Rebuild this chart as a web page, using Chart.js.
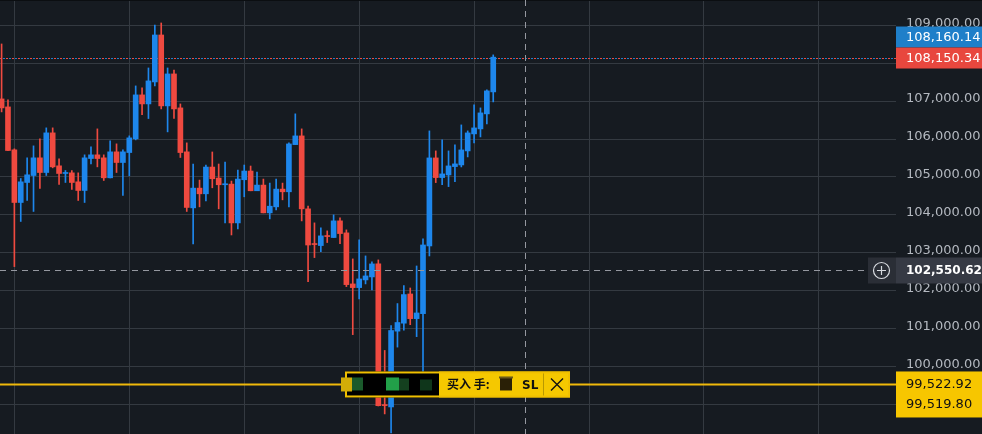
<!DOCTYPE html>
<html>
<head>
<meta charset="utf-8">
<script src="https://cdn.jsdelivr.net/npm/chart.js@4.4.1/dist/chart.umd.min.js"></script>
<style>
  html, body { margin: 0; padding: 0; background: #161b21; overflow: hidden; }
  #wrap { width: 982px; height: 434px; }
</style>
</head>
<body>
<div id="wrap"><canvas id="chart" width="982" height="434"></canvas></div>
<script>
// candle values (one entry per candle, left to right)
const opens = [
  107058, 106847, 105714, 104325, 104853, 105037, 105503, 105116, 106162, 105292,
  105090, 105107, 104870, 104642, 105485, 105582, 105503, 104976, 105661, 105380,
  105643, 106004, 107164, 106926, 107506, 108745, 106874, 107717, 106821, 105661,
  104183, 104704, 104554, 105260, 104969, 104793, 104810, 103786, 104925, 105155,
  104634, 104784, 104051, 104210, 104678, 104607, 105852, 106082, 104157, 103232,
  103188, 103444, 103400, 103840, 103523, 102176, 102079, 102282, 102361, 102704,
  98990, 98930, 100930, 101140, 101911, 101260, 101392, 103178, 105501, 104982,
  105052, 105272, 105316, 105686, 106135, 106267, 106663, 107243
];
const highs = [
  108508, 107032, 105740, 104958, 105503, 105819, 106004, 106294, 106294, 105476,
  105169, 105169, 105107, 105582, 105793, 106267, 105582, 105951, 105872, 105714,
  106083, 107401, 107348, 107875, 109009, 109062, 107875, 107822, 106926, 105898,
  105340, 104916, 105313, 105658, 105340, 105393, 104890, 105181, 105313, 105287,
  105128, 104943, 104837, 104943, 104837, 105896, 106664, 106267, 104227, 103787,
  103655, 103576, 103998, 103919, 103602, 102836, 103338, 102915, 102757, 102810,
  100421, 101079, 101658, 102132, 102069, 102650, 103363, 106214, 105686, 105976,
  105686, 105844, 106372, 106214, 106900, 106821, 107296, 108220
];
const lows = [
  106715, 105690, 102633, 103824, 104378, 104088, 104694, 105037, 105239, 104800,
  104853, 104668, 104378, 104325, 105344, 105265, 104905, 104976, 105116, 104510,
  105028, 105977, 106645, 106540, 107401, 106794, 106188, 106540, 105512, 104088,
  103230, 104210, 104369, 104713, 104157, 103786, 103468, 103627, 104475, 104634,
  104634, 104051, 103892, 104130, 104395, 104210, 105852, 103839, 102238, 102871,
  103030, 103268, 103400, 103241, 102105, 100838, 101780, 102176, 102017, 98955,
  98746, 98246, 100509, 100956, 101101, 100785, 99800, 102914, 104850, 104797,
  104744, 104876, 105263, 105527, 105897, 106055, 106399, 106979
];
const closes = [
  106821, 105696, 104325, 104870, 105055, 105503, 105116, 106162, 105265, 105090,
  105107, 104853, 104642, 105503, 105582, 105485, 104976, 105661, 105380, 105661,
  106030, 107164, 106926, 107533, 108745, 106874, 107717, 106794, 105643, 104194,
  104704, 104554, 105260, 104951, 104793, 104810, 103786, 104943, 105155, 104634,
  104784, 104051, 104227, 104678, 104607, 105870, 106082, 104157, 103203, 103215,
  103444, 103426, 103840, 103505, 102158, 102079, 102308, 102387, 102704, 98963,
  98965, 100947, 101158, 101895, 101260, 101410, 103204, 105501, 104982, 105079,
  105290, 105343, 105712, 106161, 106293, 106689, 107270, 108160
];
const priceTicks = [99000, 100000, 101000, 102000, 103000, 104000, 105000, 106000, 107000, 108000, 109000];
const timeGridIdx = [2, 20, 38, 56, 74, 92, 110, 128];

const lastPrice = 108160.14;
const markPrice = 108150.34;
const crossIdx = 81.9;
const crossPrice = 102550.62;
const orderPrice = 99522.92;
const orderPrice2 = 99519.80;
const orderText = '买入 手:';

const UP = '#1e87ec';
const DOWN = '#ef4a40';
const GRID = '#343a41';
const BG = '#161b21';
const FONT = 'DejaVu Sans';

function fmt(v) {
    return v.toLocaleString('en-US', { minimumFractionDigits: 2, maximumFractionDigits: 2 });
}

// drop the padding Chart.js keeps for edge tick labels so the plot fills the canvas
function noPad(s) {
    s.paddingTop = 0; s.paddingBottom = 0; s.paddingLeft = 0; s.paddingRight = 0;
}

const idx = opens.map((_, i) => i);
const colors = idx.map(i => closes[i] >= opens[i] ? UP : DOWN);

// everything that is not a candle: price lines, crosshair, order box, axis tags
const overlay = {
    id: 'overlay',
    beforeDraw(chart) {
        const ctx = chart.ctx;
        ctx.save();
        ctx.fillStyle = BG;
        ctx.fillRect(0, 0, chart.width, chart.height);
        ctx.restore();
    },
    beforeDatasetsDraw(chart) {
        const ctx = chart.ctx, area = chart.chartArea;
        const y = Math.round(chart.scales.y.getPixelForValue(markPrice)) + 0.5;
        ctx.save();
        ctx.lineWidth = 1;
        ctx.setLineDash([2, 4]);
        ctx.strokeStyle = DOWN;
        ctx.beginPath(); ctx.moveTo(area.left, y); ctx.lineTo(area.right, y); ctx.stroke();
        ctx.lineDashOffset = 3;
        ctx.strokeStyle = '#1f7fc9';
        ctx.beginPath(); ctx.moveTo(area.left, y); ctx.lineTo(area.right, y); ctx.stroke();
        ctx.restore();
    },
    afterDraw(chart) {
        const ctx = chart.ctx, area = chart.chartArea;
        const xs = chart.scales.x, ys = chart.scales.y;
        const right = area.right, W = chart.width;
        ctx.save();
        ctx.fillStyle = '#0b0e11';
        ctx.fillRect(0, 0, W, 1);

        // crosshair
        const cx = Math.round(xs.getPixelForValue(crossIdx)) + 0.5;
        const cy = Math.round(ys.getPixelForValue(crossPrice)) + 0.5;
        ctx.strokeStyle = '#9598a0';
        ctx.lineWidth = 1;
        ctx.setLineDash([6, 5]);
        ctx.beginPath(); ctx.moveTo(cx, area.top); ctx.lineTo(cx, area.bottom); ctx.stroke();
        ctx.beginPath(); ctx.moveTo(area.left, cy); ctx.lineTo(right - 28, cy); ctx.stroke();
        ctx.setLineDash([]);

        // plus button at the end of the crosshair
        ctx.fillStyle = '#2a2e36';
        ctx.fillRect(right - 28, cy - 13, 28, 26);
        ctx.strokeStyle = '#d8dbe0';
        ctx.lineWidth = 1.2;
        ctx.beginPath(); ctx.arc(right - 14.5, cy, 8, 0, Math.PI * 2); ctx.stroke();
        ctx.beginPath();
        ctx.moveTo(right - 19, cy); ctx.lineTo(right - 10, cy);
        ctx.moveTo(right - 14.5, cy - 4.5); ctx.lineTo(right - 14.5, cy + 4.5);
        ctx.stroke();

        // order line
        const oy = ys.getPixelForValue(orderPrice);
        ctx.strokeStyle = '#f0b90b';
        ctx.lineWidth = 2;
        ctx.beginPath(); ctx.moveTo(area.left, oy); ctx.lineTo(right, oy); ctx.stroke();

        // order box
        const bx = 345, bw = 225, bh = 26, by = oy - 13;
        ctx.fillStyle = '#000000';
        ctx.fillRect(bx, by, 94, bh);
        ctx.fillStyle = '#f5c800';
        ctx.fillRect(bx + 94, by, bw - 94, bh);
        ctx.strokeStyle = '#f0c000';
        ctx.lineWidth = 2;
        ctx.strokeRect(bx + 1, by + 1, bw - 2, bh - 2);
        ctx.fillStyle = '#d2ad08';
        ctx.fillRect(bx - 4, oy - 7, 11, 14);
        ctx.fillStyle = '#1a5a2b'; ctx.fillRect(bx + 7, oy - 7, 11, 13);
        ctx.fillStyle = '#22a049'; ctx.fillRect(bx + 41, oy - 7, 13, 13);
        ctx.fillStyle = '#14401f'; ctx.fillRect(bx + 54, oy - 6, 10, 12);
        ctx.fillStyle = '#0f361b'; ctx.fillRect(bx + 75, oy - 5, 12, 11);

        ctx.fillStyle = '#111111';
        ctx.textBaseline = 'middle';
        ctx.textAlign = 'left';
        ctx.font = 'bold 12px "Noto Sans CJK SC"';
        ctx.fillText(orderText, bx + 102, oy);
        ctx.fillStyle = '#2a2006';
        ctx.fillRect(bx + 155, oy - 7, 12, 13);
        ctx.fillStyle = '#6b5a1a';
        ctx.fillRect(bx + 154, oy - 8, 14, 2);
        ctx.fillStyle = '#111111';
        ctx.font = 'bold 12px ' + FONT;
        ctx.fillText('SL', bx + 177, oy + 1);
        ctx.strokeStyle = '#b89800';
        ctx.lineWidth = 1;
        ctx.beginPath(); ctx.moveTo(bx + 198.5, by + 2); ctx.lineTo(bx + 198.5, by + bh - 2); ctx.stroke();
        ctx.strokeStyle = '#111111';
        ctx.lineWidth = 1.4;
        ctx.beginPath();
        ctx.moveTo(bx + 206, oy - 6); ctx.lineTo(bx + 218, oy + 6);
        ctx.moveTo(bx + 218, oy - 6); ctx.lineTo(bx + 206, oy + 6);
        ctx.stroke();

        // axis tags
        ctx.font = '13px ' + FONT;
        const my = ys.getPixelForValue(markPrice);
        ctx.fillStyle = '#1f7fc9';
        ctx.fillRect(right, my - 31, W - right, 21);
        ctx.fillStyle = '#e8473e';
        ctx.fillRect(right, my - 10, W - right, 21);
        ctx.fillStyle = '#ffffff';
        ctx.fillText(fmt(lastPrice), right + 10, my - 20);
        ctx.fillText(fmt(markPrice), right + 10, my + 1);

        ctx.fillStyle = '#363a44';
        ctx.fillRect(right, cy - 13, W - right, 26);
        ctx.fillStyle = '#ffffff';
        ctx.font = 'bold 12px ' + FONT;
        ctx.fillText(fmt(crossPrice), right + 10, cy);

        ctx.fillStyle = '#f7c600';
        ctx.fillRect(right, oy - 13, W - right, 46);
        ctx.fillStyle = '#111111';
        ctx.font = '13px ' + FONT;
        ctx.fillText(fmt(orderPrice), right + 10, oy);
        ctx.fillText(fmt(orderPrice2), right + 10, oy + 20);

        ctx.restore();
    }
};

new Chart(document.getElementById('chart'), {
    type: 'bar',
    data: {
        datasets: [
            {
                label: 'wick',
                data: idx.map(i => ({ x: i, y: [lows[i], highs[i]] })),
                backgroundColor: colors,
                barThickness: 1,
                grouped: false
            },
            {
                label: 'body',
                data: idx.map(i => ({ x: i, y: [Math.min(opens[i], closes[i]), Math.max(opens[i], closes[i])] })),
                backgroundColor: colors,
                barThickness: 5,
                minBarLength: 1,
                grouped: false
            }
        ]
    },
    options: {
        responsive: false,
        animation: false,
        devicePixelRatio: 1,
        layout: { padding: 0 },
        plugins: { legend: { display: false }, tooltip: { enabled: false } },
        scales: {
            x: {
                type: 'linear',
                min: -0.25,
                max: 140.08,
                offset: false,
                afterBuildTicks: s => { s.ticks = timeGridIdx.map(v => ({ value: v })); },
                afterFit: s => { s.height = 0; noPad(s); },
                grid: { color: GRID, drawTicks: false, offset: false },
                border: { display: false },
                ticks: { display: false }
            },
            y: {
                position: 'right',
                min: 98216,
                max: 109668,
                afterBuildTicks: s => { s.ticks = priceTicks.map(v => ({ value: v })); },
                afterFit: s => { s.width = 86; noPad(s); },
                grid: { color: GRID, drawTicks: false },
                border: { display: false },
                ticks: {
                    color: '#b4b9c0',
                    font: { family: FONT, size: 13 },
                    padding: 10,
                    labelOffset: -2,
                    callback: v => fmt(v)
                }
            }
        }
    },
    plugins: [overlay]
});
</script>
</body>
</html>
